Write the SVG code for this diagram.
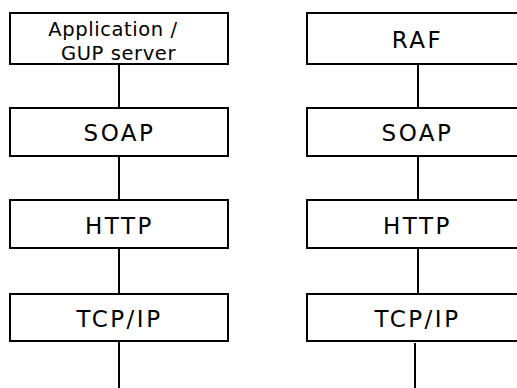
<svg xmlns="http://www.w3.org/2000/svg" width="517" height="388" viewBox="0 0 517 388">
<style>
.box{fill:#fff;stroke:#000;stroke-width:2}
.lbl{font-family:"DejaVu Sans",Verdana,sans-serif;font-size:23px;letter-spacing:2.5px;fill:#000;text-anchor:middle}
.lbl2{font-family:"DejaVu Sans",Verdana,sans-serif;font-size:19.5px;letter-spacing:0.6px;fill:#000;text-anchor:middle}
.conn{stroke:#000;stroke-width:2;fill:none}
</style>
<rect width="517" height="388" fill="#fff"/>
<g id="connectors">
<line class="conn" x1="119" y1="64" x2="119" y2="108"/>
<line class="conn" x1="119" y1="156" x2="119" y2="200"/>
<line class="conn" x1="119" y1="248" x2="119" y2="294"/>
<line class="conn" x1="119" y1="341" x2="119" y2="388"/>
<line class="conn" x1="418" y1="64" x2="418" y2="108"/>
<line class="conn" x1="418" y1="156" x2="418" y2="200"/>
<line class="conn" x1="418" y1="248" x2="418" y2="294"/>
<line class="conn" x1="415" y1="343" x2="415" y2="388"/>
</g>
<g id="app">
<rect class="box" x="10" y="13" width="218" height="51"/>
<text class="lbl2" x="113" y="36">Application /</text>
<text class="lbl2" x="118.5" y="60">GUP server</text>
</g>
<g id="soap-left">
<rect class="box" x="10" y="108" width="218" height="48"/>
<text class="lbl" x="119.5" y="140.5">SOAP</text>
</g>
<g id="http-left">
<rect class="box" x="10" y="200" width="218" height="48"/>
<text class="lbl" x="119.5" y="234">HTTP</text>
</g>
<g id="tcp-left">
<rect class="box" x="10" y="294" width="218" height="47"/>
<text class="lbl" x="119.5" y="327">TCP/IP</text>
</g>
<g id="raf">
<rect class="box" x="307" y="13" width="230" height="51"/>
<text class="lbl" x="417.5" y="47.5">RAF</text>
</g>
<g id="soap-right">
<rect class="box" x="307" y="108" width="230" height="48"/>
<text class="lbl" x="417.5" y="140.5">SOAP</text>
</g>
<g id="http-right">
<rect class="box" x="307" y="200" width="230" height="48"/>
<text class="lbl" x="417.5" y="234">HTTP</text>
</g>
<g id="tcp-right">
<rect class="box" x="307" y="294" width="230" height="47"/>
<text class="lbl" x="417.5" y="327">TCP/IP</text>
</g>
</svg>
